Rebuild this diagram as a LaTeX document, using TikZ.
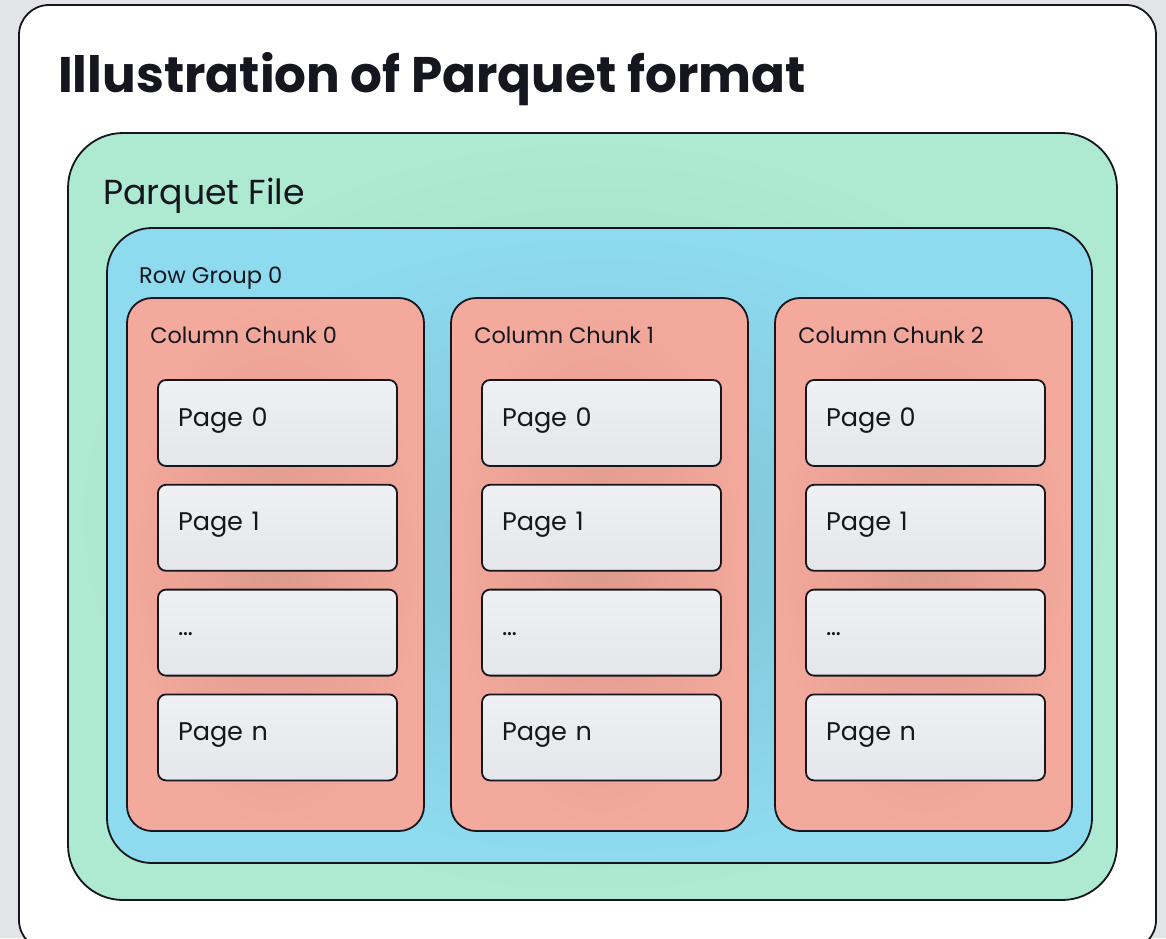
\documentclass[tikz,border=0pt]{standalone}
\usepackage{fontspec}
\setmainfont{Poppins}
\usetikzlibrary{positioning}

\definecolor{inkcol}{HTML}{15161E}
\definecolor{backcol}{HTML}{E3E4E8}
\definecolor{fileouter}{HTML}{AEE9D2}
\definecolor{fileinner}{HTML}{A0D7BD}
\definecolor{groupouter}{HTML}{8EDBEF}
\definecolor{groupinner}{HTML}{80C2D5}
\definecolor{chunkouter}{HTML}{F3A99B}
\definecolor{chunkinner}{HTML}{DE998D}
\definecolor{pagetop}{HTML}{EFF0F4}
\definecolor{pagebottom}{HTML}{E5E6EA}

\begin{document}
\begin{tikzpicture}[x=1pt, y=-1pt,
      every node/.style={inner sep=0pt, text=inkcol},
      frame/.style={draw=inkcol, line width=1.8pt},
      filebox/.style={frame, rounded corners=55pt,
                      inner color=fileinner, outer color=fileouter,
                      minimum width=1049pt, minimum height=767pt},
      groupbox/.style={frame, rounded corners=45pt,
                       inner color=groupinner, outer color=groupouter,
                       minimum width=985pt, minimum height=635pt},
      chunkbox/.style={frame, rounded corners=25pt,
                       inner color=chunkinner, outer color=chunkouter,
                       minimum width=297pt, minimum height=533pt},
      pagebox/.style={frame, rounded corners=8pt,
                      top color=pagetop, bottom color=pagebottom,
                      minimum width=239pt, minimum height=86pt,
                      text width=199pt, align=left,
                      text height=21pt, text depth=15pt,
                      font=\fontsize{25.5}{30}\selectfont},
      chunktitle/.style={anchor=base west, font=\fontsize{22.4}{27}\selectfont},
  ]
    \useasboundingbox (0,0) rectangle (1166,938);
    \fill[backcol] (0,0) rectangle (1166,938);
    \draw[frame, fill=white, rounded corners=30pt] (19,5) rectangle (1156,950);

    \node[anchor=base west, font=\fontsize{50}{60}\selectfont\bfseries] (title)
      at (58,92) {Illustration of Parquet format};

    \node[filebox] (file) at (592.5,516.5) {};
    \node[anchor=base west, font=\fontsize{34.7}{41}\selectfont] (filelabel)
      at (103,204) {Parquet File};

    \node[groupbox] (group) at (599.5,545.5) {};
    \node[anchor=base west, font=\fontsize{22.6}{27}\selectfont] (grouplabel)
      at (139,283) {Row Group 0};

    \foreach \i/\x in {0/275.5, 1/599.5, 2/923.5} {
      \node[chunkbox] (chunk\i) at (\x,564.5) {};
      \node[chunktitle] (chunklabel\i) at ([shift={(24,46)}]chunk\i.north west)
        {Column Chunk \i};
      \node[pagebox, below=82pt of chunk\i.north, xshift=2pt] (p\i0) {Page 0};
      \node[pagebox, below=17pt of p\i0] (p\i1) {Page 1};
      \node[pagebox, below=17pt of p\i1] (p\i2) {…};
      \node[pagebox, below=17pt of p\i2] (p\i3) {Page n};
    }
  \end{tikzpicture}
\end{document}
